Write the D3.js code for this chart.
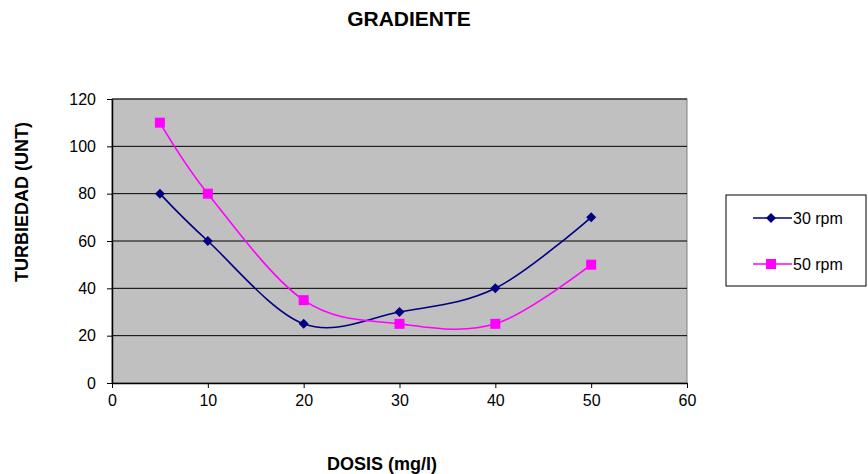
<!DOCTYPE html>
<html><head><meta charset="utf-8">
<script src="https://cdn.jsdelivr.net/npm/d3@7"></script>
<style>body{margin:0;background:#fff;} text{font-family:"Liberation Sans",Arial,sans-serif;}</style>
</head><body>
<svg id="c" width="868" height="474"></svg>
<script>
const dosis = [5, 10, 20, 30, 40, 50];
const rpm30 = [80, 60, 25, 30, 40, 70];
const rpm50 = [110, 80, 35, 25, 25, 50];
const seriesNames = ["30 rpm", "50 rpm"];
const xTicks = [0, 10, 20, 30, 40, 50, 60];
const yTicks = [0, 20, 40, 60, 80, 100, 120];

const svg = d3.select("#c");
const L = 112, R = 687, T = 99, B = 383;
const x = d3.scaleLinear().domain([0, 60]).range([L, R]);
const y = d3.scaleLinear().domain([0, 120]).range([B, T]);

svg.append("rect").attr("x", L).attr("y", T).attr("width", R - L).attr("height", B - T)
  .attr("fill", "#c0c0c0").attr("stroke", "#808080").attr("stroke-width", 1);

svg.append("g").selectAll("line").data(yTicks.filter(d => d > 0)).join("line")
  .attr("x1", L).attr("x2", R).attr("y1", d => y(d)).attr("y2", d => y(d))
  .attr("stroke", "#000").attr("stroke-width", 1);

const yAxis = svg.append("g").attr("transform", `translate(${L},0)`)
  .call(d3.axisLeft(y).tickValues(yTicks).tickSize(5).tickPadding(11).tickSizeOuter(0));
const xAxis = svg.append("g").attr("transform", `translate(0,${B})`)
  .call(d3.axisBottom(x).tickValues(xTicks).tickSize(5).tickPadding(7).tickSizeOuter(0));
[yAxis, xAxis].forEach(a => {
  a.select(".domain").attr("stroke", "#000").attr("stroke-width", 1.5);
  a.selectAll(".tick line").attr("stroke", "#000");
  a.selectAll("text").attr("font-size", 16).attr("fill", "#000")
    .attr("font-family", "Liberation Sans, Arial, sans-serif");
});

const colors = ["#000080", "#ff00ff"];
const data = [rpm30, rpm50];
const line = d3.line().x(d => x(d[0])).y(d => y(d[1])).curve(d3.curveCatmullRom.alpha(0));

data.forEach((vals, i) => {
  const pts = dosis.map((d, j) => [d, vals[j]]);
  svg.append("path").attr("d", line(pts)).attr("fill", "none")
    .attr("stroke", colors[i]).attr("stroke-width", 1.6);
});
const diamond = d3.symbol().type(d3.symbolSquare).size(50);
svg.append("g").selectAll("path").data(dosis.map((d, j) => [d, rpm30[j]])).join("path")
  .attr("d", diamond).attr("fill", colors[0])
  .attr("transform", d => `translate(${x(d[0])},${y(d[1])}) rotate(45)`);
svg.append("g").selectAll("rect").data(dosis.map((d, j) => [d, rpm50[j]])).join("rect")
  .attr("x", d => x(d[0]) - 5).attr("y", d => y(d[1]) - 5).attr("width", 10).attr("height", 10)
  .attr("fill", colors[1]);

// Titles
svg.append("text").attr("x", 409).attr("y", 26).attr("text-anchor", "middle")
  .attr("font-size", 21).attr("font-weight", "bold").text("GRADIENTE");
svg.append("text").attr("x", 382).attr("y", 470).attr("text-anchor", "middle")
  .attr("font-size", 18).attr("font-weight", "bold").text("DOSIS (mg/l)");
svg.append("text").attr("transform", "translate(28,202) rotate(-90)").attr("text-anchor", "middle")
  .attr("font-size", 18).attr("font-weight", "bold").text("TURBIEDAD (UNT)");

// Legend
const lg = svg.append("g");
lg.append("rect").attr("x", 726).attr("y", 195).attr("width", 140).attr("height", 91)
  .attr("fill", "#fff").attr("stroke", "#000").attr("stroke-width", 1);
const rowsY = [218, 264];
seriesNames.forEach((n, i) => {
  lg.append("line").attr("x1", 753).attr("x2", 792).attr("y1", rowsY[i]).attr("y2", rowsY[i])
    .attr("stroke", colors[i]).attr("stroke-width", 1.6);
  if (i === 0) {
    lg.append("path").attr("d", diamond).attr("fill", colors[0])
      .attr("transform", `translate(771,${rowsY[i]}) rotate(45)`);
  } else {
    lg.append("rect").attr("x", 766).attr("y", rowsY[i] - 5).attr("width", 10).attr("height", 10)
      .attr("fill", colors[1]);
  }
  lg.append("text").attr("x", 793).attr("y", rowsY[i] + 6).attr("font-size", 16).text(n);
});
</script>
</body></html>
